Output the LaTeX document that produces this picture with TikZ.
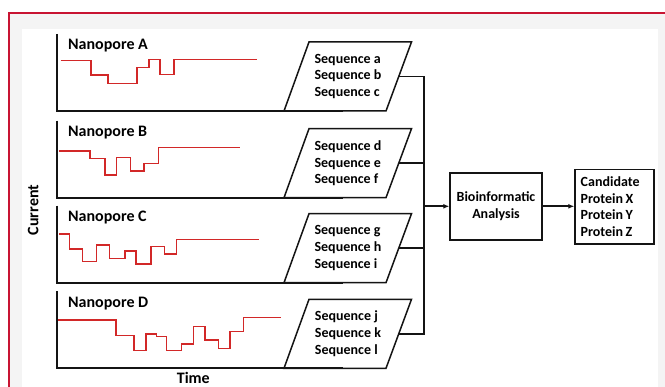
\documentclass[tikz,border=0pt]{standalone}
\usepackage{fontspec}
\setmainfont{Carlito}
\usetikzlibrary{arrows.meta}
\definecolor{framered}{RGB}{200,20,50}
\definecolor{tracered}{RGB}{210,40,40}
\definecolor{margingray}{RGB}{244,244,244}
\definecolor{ink}{RGB}{20,20,20}
\begin{document}
\begin{tikzpicture}[x=1pt, y=-1pt,
  axis/.style={ink, line width=2.1pt},
  trace/.style={tracered, line width=1.5pt, line join=miter},
  seqbox/.style={ink, line width=1.5pt, line join=miter},
  link/.style={ink, line width=1.8pt},
  arrowlink/.style={link, -{Latex[length=6pt,width=5pt]}},
  procbox/.style={draw=ink, line width=1.5pt, inner sep=0pt,
    font=\bfseries\fontsize{14}{16.7}\selectfont},
  seqtext/.style={font=\bfseries\fontsize{14}{16.7}\selectfont, align=left, inner sep=0pt},
  porelabel/.style={font=\bfseries\fontsize{16}{19}\selectfont, inner sep=0pt, anchor=west},
  axislabel/.style={font=\bfseries\fontsize{16}{19}\selectfont, inner sep=0pt}]
\useasboundingbox (0,0) rectangle (665,387);

% page frame
\fill[margingray] (9,13) rectangle (665,387);
\fill[white] (22,29) rectangle (658,387);
\draw[framered, line width=1.2pt] (9,387) -- (9,13) -- (665,13);

% four nanopore panels: axes, label, sequence parallelogram
\foreach \p/\yb/\qa/\qb/\qc in {A/111/a/b/c, B/197.7/d/e/f, C/282.7/g/h/i, D/368.3/j/k/l} {
  \draw[axis] (56.7,\yb-77) -- (56.7,\yb) -- (343,\yb);
  \node[porelabel] (lab\p) at (68,\yb-65) {Nanopore \p};
  \draw[seqbox] (284,\yb) -- (309,\yb-69) -- (411.5,\yb-69) -- (386,\yb) -- cycle;
  \node[seqtext] (seq\p) at (348,\yb-34.5) {Sequence \qa\\Sequence \qb\\Sequence \qc};
  \coordinate (out\p) at (398.75,\yb-34.5);
  \coordinate (bus\p) at (424,\yb-34.5);
}

% current traces
\draw[trace] (60.7,60.7) -- (91,60.7) -- (91,75) -- (108,75) -- (108,83.3) -- (137,83.3)
  -- (137,67.3) -- (149,67.3) -- (149,59.3) -- (160,59.3) -- (160,74.3) -- (174,74.3)
  -- (174,59.3) -- (256.7,59.3);
\draw[trace] (59.3,151) -- (90,151) -- (90,158.3) -- (105,158.3) -- (105,175) -- (116.7,175)
  -- (116.7,157.7) -- (130.7,157.7) -- (130.7,171) -- (144,171) -- (144,163.3) -- (158.3,163.3)
  -- (158.3,147.7) -- (240,147.7);
\draw[trace] (59.3,234) -- (69.3,234) -- (69.3,249) -- (82.7,249) -- (82.7,261.7) -- (96.7,261.7)
  -- (96.7,245) -- (109.3,245) -- (109.3,258.3) -- (125,258.3) -- (125,251) -- (136,251)
  -- (136,264) -- (151,264) -- (151,246.7) -- (164.3,246.7) -- (164.3,254) -- (176.7,254)
  -- (176.7,239.3) -- (259.3,239.3);
\draw[trace] (58.3,320) -- (116,320) -- (116,335.7) -- (134,335.7) -- (134,350.7) -- (146,350.7)
  -- (146,334) -- (156.7,334) -- (156.7,336.7) -- (166.7,336.7) -- (166.7,350.7) -- (181.7,350.7)
  -- (181.7,344) -- (193.3,344) -- (193.3,326.7) -- (205,326.7) -- (205,340) -- (218.3,340)
  -- (218.3,348.3) -- (230,348.3) -- (230,331.7) -- (243.3,331.7) -- (243.3,317.3) -- (280.7,317.3);

% axis labels
\node[axislabel, rotate=90] (current) at (33.3,210) {Current};
\node[axislabel] (time) at (193.3,378) {Time};

% analysis boxes
\node[procbox, minimum width=92pt, minimum height=67pt, align=center] (bio) at (496,206.3)
  {Bioinformatic\\Analysis};
\node[procbox, text width=67.6pt, inner xsep=5.7pt, minimum height=74.7pt, align=left] (cand)
  at (614.5,206.7) {Candidate\\Protein\hspace{2.5pt}X\\Protein\hspace{2.5pt}Y\\Protein\hspace{2.5pt}Z};

% collecting bus and arrows
\draw[link, line join=miter] (outA) -- (busA) -- (busD) -- (outD);
\draw[link] (outB) -- (busB);
\draw[link] (outC) -- (busC);
\coordinate (busJ) at (424,206.3);
\draw[arrowlink] (busJ) -- (busJ -| bio.west);
\draw[arrowlink] (bio.east) -- (bio.east -| cand.west);
\end{tikzpicture}
\end{document}
